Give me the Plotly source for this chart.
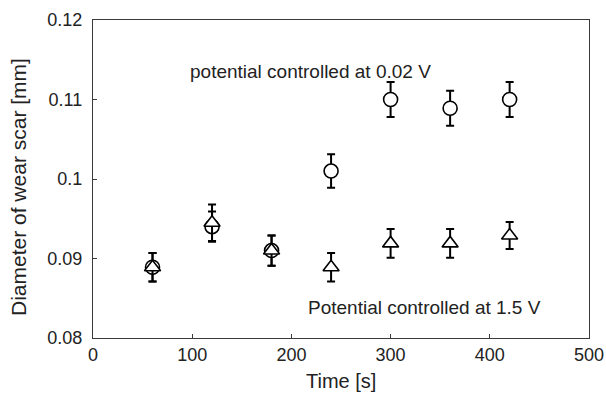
import plotly.graph_objects as go

# Data
time_s = [60, 120, 180, 240, 300, 360, 420]
circle_y = [0.0889, 0.0940, 0.0910, 0.1010, 0.1100, 0.1089, 0.1100]
circle_err = [0.0018, 0.0019, 0.0019, 0.0021, 0.0022, 0.0022, 0.0022]
tri_y = [0.0889, 0.0945, 0.0910, 0.0889, 0.0919, 0.0919, 0.0929]
tri_err = [0.0018, 0.0023, 0.0019, 0.0018, 0.0018, 0.0018, 0.0017]
x_ticks = [0, 100, 200, 300, 400, 500]
y_ticks = [0.08, 0.09, 0.10, 0.11, 0.12]
y_tick_labels = ["0.08", "0.09", "0.1", "0.11", "0.12"]
label_high = "potential controlled at 0.02 V"
label_low = "Potential controlled at 1.5 V"

FONT = "Liberation Sans, Arial, sans-serif"
TXT = "#222222"
LINE = "#3a3a3a"

L, R, T, B = 93, 17, 20, 57
PW = 606 - L - R
PH = 395 - T - B

fig = go.Figure()
fig.add_trace(go.Scatter(
    x=time_s, y=circle_y, mode="markers",
    marker=dict(symbol="circle", size=14, color="white",
                line=dict(color="black", width=1.6)),
    error_y=dict(type="data", array=circle_err, visible=True,
                 color="black", thickness=2, width=4),
    showlegend=False,
))
fig.add_trace(go.Scatter(
    x=time_s, y=tri_y, mode="markers",
    marker=dict(symbol="triangle-up", size=14, color="white",
                line=dict(color="black", width=1.6)),
    error_y=dict(type="data", array=tri_err, visible=True,
                 color="black", thickness=2, width=4),
    showlegend=False,
))

fig.add_annotation(x=219, y=0.1135, xref="x", yref="y", text=label_high,
                   showarrow=False, font=dict(family=FONT, size=19, color=TXT))
fig.add_annotation(x=334, y=0.0838, xref="x", yref="y", text=label_low,
                   showarrow=False, font=dict(family=FONT, size=19, color=TXT))
fig.add_annotation(x=0.5, y=(338 - 381) / PH, xref="paper", yref="paper",
                   text="Time [s]", showarrow=False, yanchor="middle",
                   font=dict(family=FONT, size=20, color=TXT))
fig.add_annotation(x=(18 - L) / PW, y=(338 - 187) / PH, xref="paper", yref="paper",
                   text="Diameter of wear scar [mm]", showarrow=False,
                   textangle=-90, xanchor="center", yanchor="middle",
                   font=dict(family=FONT, size=21, color=TXT))

fig.update_layout(
    width=606, height=395,
    margin=dict(l=L, r=R, t=T, b=B, autoexpand=False),
    paper_bgcolor="white", plot_bgcolor="white",
    font=dict(family=FONT, size=18, color=TXT),
    xaxis=dict(range=[0, 500], tickvals=x_ticks, ticks="inside", ticklen=4,
               tickcolor=LINE, showline=True, linecolor=LINE, linewidth=1.2,
               mirror=True, showgrid=False, zeroline=False, automargin=False,
               tickfont=dict(family=FONT, size=18, color=TXT)),
    yaxis=dict(range=[0.08, 0.12], tickvals=y_ticks, ticktext=y_tick_labels,
               ticks="inside", ticklen=4, tickcolor=LINE, showline=True,
               linecolor=LINE, linewidth=1.2, mirror=True, showgrid=False,
               zeroline=False, ticklabelstandoff=6, automargin=False,
               tickfont=dict(family=FONT, size=18, color=TXT)),
)

fig.write_html("out.html")
